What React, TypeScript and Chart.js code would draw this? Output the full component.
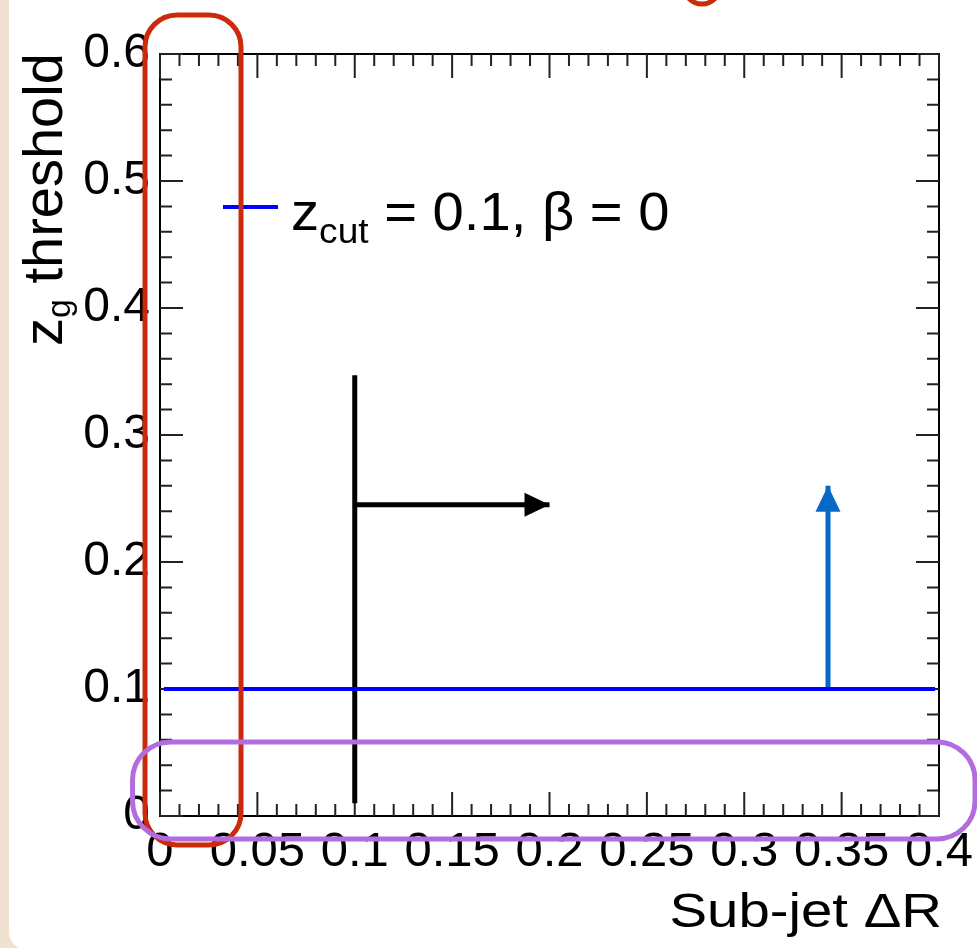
import { useEffect, useRef } from 'react';
import { Chart, registerables } from 'chart.js';

Chart.register(...registerables);

const FONT = '"Liberation Sans", Arial, Helvetica, sans-serif';

// Axis ranges and ticks
const xRange = [0, 0.4];
const yRange = [0, 0.6];
const xTickValues = [0, 0.05, 0.1, 0.15, 0.2, 0.25, 0.3, 0.35, 0.4];
const xTickLabels = ['0', '0.05', '0.1', '0.15', '0.2', '0.25', '0.3', '0.35', '0.4'];
const yTickValues = [0, 0.1, 0.2, 0.3, 0.4, 0.5, 0.6];
const yTickLabels = ['0', '0.1', '0.2', '0.3', '0.4', '0.5', '0.6'];
const xMinorStep = 0.01;
const yMinorStep = 0.02;

// z_cut = 0.1 threshold line
const thresholdX = [0.002, 0.398];
const thresholdY = [0.1, 0.1];
// vertical black line at ΔR = 0.1
const cutLineX = [0.1, 0.1];
const cutLineY = [0.01, 0.347];
// black horizontal arrow
const passArrowX = [0.1, 0.2];
const passArrowY = [0.245, 0.245];
// blue vertical arrow
const zgArrowX = [0.343, 0.343];
const zgArrowY = [0.1, 0.26];

// texts
const legendMain = 'z';
const legendSub = 'cut';
const legendRest = ' = 0.1, \u03B2 = 0';
const xTitle = 'Sub-jet \u0394R';
const yTitleMain = 'z';
const yTitleSub = 'g';
const yTitleRest = ' threshold';

// highlight boxes (data units)
const redBoxX = [-0.0077, 0.0416];
const redBoxY = [-0.0228, 0.6307];
const purpleBoxX = [-0.0141, 0.4185];
const purpleBoxY = [-0.0181, 0.0583];
const redArcX = 0.2783;
const redArcY = 0.6535;

const pts = (xs: number[], ys: number[]) => xs.map((x, i) => ({ x, y: ys[i] }));

const framePlugin = {
  id: 'rootFrame',
  beforeDatasetsDraw(chart: any) {
    const { ctx, chartArea, scales } = chart;
    const { left, right, top, bottom } = chartArea;
    const xs = scales.x;
    const ys = scales.y;
    ctx.save();
    ctx.strokeStyle = '#000';
    ctx.lineWidth = 2;
    ctx.strokeRect(left, top, right - left, bottom - top);
    ctx.strokeStyle = '#222';
    ctx.lineWidth = 2;
    const isMajor = (v: number, majors: number[]) => majors.some((m) => Math.abs(m - v) < 1e-6);
    ctx.beginPath();
    const nx = Math.round((xRange[1] - xRange[0]) / xMinorStep);
    for (let k = 0; k <= nx; k++) {
      const v = xRange[0] + k * xMinorStep;
      const len = isMajor(v, xTickValues) ? 24 : 12;
      const px = xs.getPixelForValue(v);
      ctx.moveTo(px, bottom);
      ctx.lineTo(px, bottom - len);
      ctx.moveTo(px, top);
      ctx.lineTo(px, top + len);
    }
    const ny = Math.round((yRange[1] - yRange[0]) / yMinorStep);
    for (let k = 0; k <= ny; k++) {
      const v = yRange[0] + k * yMinorStep;
      const len = isMajor(v, yTickValues) ? 23 : 12;
      const py = ys.getPixelForValue(v);
      ctx.moveTo(left, py);
      ctx.lineTo(left + len, py);
      ctx.moveTo(right, py);
      ctx.lineTo(right - len, py);
    }
    ctx.stroke();
    ctx.restore();
  },
};

const arrowPlugin = {
  id: 'arrowHeads',
  afterDatasetsDraw(chart: any) {
    const ctx = chart.ctx;
    chart.data.datasets.forEach((ds: any, i: number) => {
      if (!ds.arrowHead) return;
      const data = chart.getDatasetMeta(i).data;
      const a = data[data.length - 2];
      const b = data[data.length - 1];
      const ang = Math.atan2(b.y - a.y, b.x - a.x);
      const L = ds.arrowHead.length;
      const W = ds.arrowHead.halfWidth;
      ctx.save();
      ctx.translate(b.x, b.y);
      ctx.rotate(ang);
      ctx.beginPath();
      ctx.moveTo(0, 0);
      ctx.lineTo(-L, -W);
      ctx.lineTo(-L, W);
      ctx.closePath();
      ctx.fillStyle = ds.borderColor;
      ctx.fill();
      ctx.restore();
    });
  },
};

const overlayPlugin = {
  id: 'overlay',
  afterDraw(chart: any) {
    const { ctx, chartArea, scales } = chart;
    const { left, top, right } = chartArea;
    const xs = scales.x;
    const ys = scales.y;
    ctx.save();
    ctx.fillStyle = '#000';
    ctx.textAlign = 'left';
    ctx.textBaseline = 'alphabetic';

    // legend
    ctx.strokeStyle = '#0000FF';
    ctx.lineWidth = 4;
    ctx.beginPath();
    ctx.moveTo(left + 63, top + 153);
    ctx.lineTo(left + 118, top + 153);
    ctx.stroke();
    ctx.save();
    ctx.translate(left + 131, top + 176);
    ctx.scale(1.06, 1);
    let x = 0;
    ctx.font = `53px ${FONT}`;
    ctx.fillText(legendMain, x, 0);
    x += ctx.measureText(legendMain).width;
    ctx.font = `35px ${FONT}`;
    ctx.fillText(legendSub, x, 13);
    x += ctx.measureText(legendSub).width;
    ctx.font = `53px ${FONT}`;
    ctx.fillText(legendRest, x, 0);
    ctx.restore();

    // y title
    ctx.save();
    ctx.translate(62, 346);
    ctx.rotate(-Math.PI / 2);
    x = 0;
    ctx.font = `56px ${FONT}`;
    ctx.fillText(yTitleMain, x, 0);
    x += ctx.measureText(yTitleMain).width;
    ctx.font = `34px ${FONT}`;
    ctx.fillText(yTitleSub, x, 8);
    x += ctx.measureText(yTitleSub).width;
    ctx.font = `56px ${FONT}`;
    ctx.fillText(yTitleRest, x, 0);
    ctx.restore();

    // x title
    ctx.save();
    ctx.translate(right + 3, 927);
    ctx.scale(1.15, 1);
    ctx.textAlign = 'right';
    ctx.font = `49px ${FONT}`;
    ctx.fillText(xTitle, 0, 0);
    ctx.restore();

    // highlight boxes
    const box = (bx: number[], by: number[], color: string, r: number) => {
      const x0 = xs.getPixelForValue(bx[0]);
      const x1 = xs.getPixelForValue(bx[1]);
      const y0 = ys.getPixelForValue(by[1]);
      const y1 = ys.getPixelForValue(by[0]);
      ctx.strokeStyle = color;
      ctx.lineWidth = 5;
      ctx.beginPath();
      ctx.roundRect(x0, y0, x1 - x0, y1 - y0, r);
      ctx.stroke();
    };
    box(redBoxX, redBoxY, '#CB2A0B', 32);
    box(purpleBoxX, purpleBoxY, '#B36BE0', 38);
    ctx.strokeStyle = '#CB2A0B';
    ctx.lineWidth = 5;
    ctx.beginPath();
    ctx.arc(xs.getPixelForValue(redArcX), ys.getPixelForValue(redArcY), 18, 0, Math.PI * 2);
    ctx.stroke();
    ctx.restore();
  },
};

export default function App() {
  const ref = useRef<HTMLCanvasElement>(null);
  useEffect(() => {
    document.body.style.margin = '0';
    const chart = new Chart(ref.current as HTMLCanvasElement, {
      type: 'scatter',
      data: {
        datasets: [
          {
            label: 'threshold',
            data: pts(thresholdX, thresholdY),
            borderColor: '#0000FF',
            backgroundColor: '#0000FF',
            borderWidth: 4,
            showLine: true,
            pointRadius: 0,
          },
          {
            label: 'cut',
            data: pts(cutLineX, cutLineY),
            borderColor: '#000000',
            backgroundColor: '#000000',
            borderWidth: 5,
            showLine: true,
            pointRadius: 0,
          },
          {
            label: 'pass',
            data: pts(passArrowX, passArrowY),
            borderColor: '#000000',
            backgroundColor: '#000000',
            borderWidth: 5,
            showLine: true,
            pointRadius: 0,
            arrowHead: { length: 25, halfWidth: 12 },
          } as any,
          {
            label: 'zg',
            data: pts(zgArrowX, zgArrowY),
            borderColor: '#0868C6',
            backgroundColor: '#0868C6',
            borderWidth: 5,
            showLine: true,
            pointRadius: 0,
            arrowHead: { length: 26, halfWidth: 12.5 },
          } as any,
        ],
      },
      options: {
        animation: false,
        responsive: false,
        devicePixelRatio: 1,
        events: [],
        layout: { padding: { top: 54, right: 38, left: 0, bottom: 0 } },
        plugins: { legend: { display: false }, tooltip: { enabled: false } },
        scales: {
          x: {
            type: 'linear',
            min: xRange[0],
            max: xRange[1],
            afterBuildTicks: (s: any) => {
              s.ticks = xTickValues.map((v) => ({ value: v }));
            },
            afterFit: (s: any) => {
              s.height = 132;
            },
            grid: { display: false },
            border: { display: false },
            ticks: {
              callback: (_v: any, i: number) => xTickLabels[i],
              font: { family: FONT, size: 49 },
              color: '#000',
              padding: -1,
              maxRotation: 0,
              minRotation: 0,
              autoSkip: false,
            },
          },
          y: {
            type: 'linear',
            min: yRange[0],
            max: yRange[1],
            afterBuildTicks: (s: any) => {
              s.ticks = yTickValues.map((v) => ({ value: v }));
            },
            afterFit: (s: any) => {
              s.width = 160;
            },
            grid: { display: false },
            border: { display: false },
            ticks: {
              callback: (_v: any, i: number) => yTickLabels[i],
              font: { family: FONT, size: 48 },
              color: '#000',
              padding: 2,
              autoSkip: false,
            },
          },
        },
      },
      plugins: [framePlugin, arrowPlugin, overlayPlugin],
    } as any);
    return () => chart.destroy();
  }, []);
  return (
    <div
      style={{
        position: 'fixed',
        left: 0,
        top: 0,
        width: 977,
        height: 948,
        background: '#EFE2D0',
        overflow: 'hidden',
      }}
    >
      <div
        style={{
          position: 'absolute',
          left: 9,
          top: -30,
          width: 1000,
          height: 980,
          background: '#FFFFFF',
          borderRadius: 18,
        }}
      />
      <canvas
        ref={ref}
        width={977}
        height={948}
        style={{ position: 'absolute', left: 0, top: 0, width: 977, height: 948 }}
      />
    </div>
  );
}
